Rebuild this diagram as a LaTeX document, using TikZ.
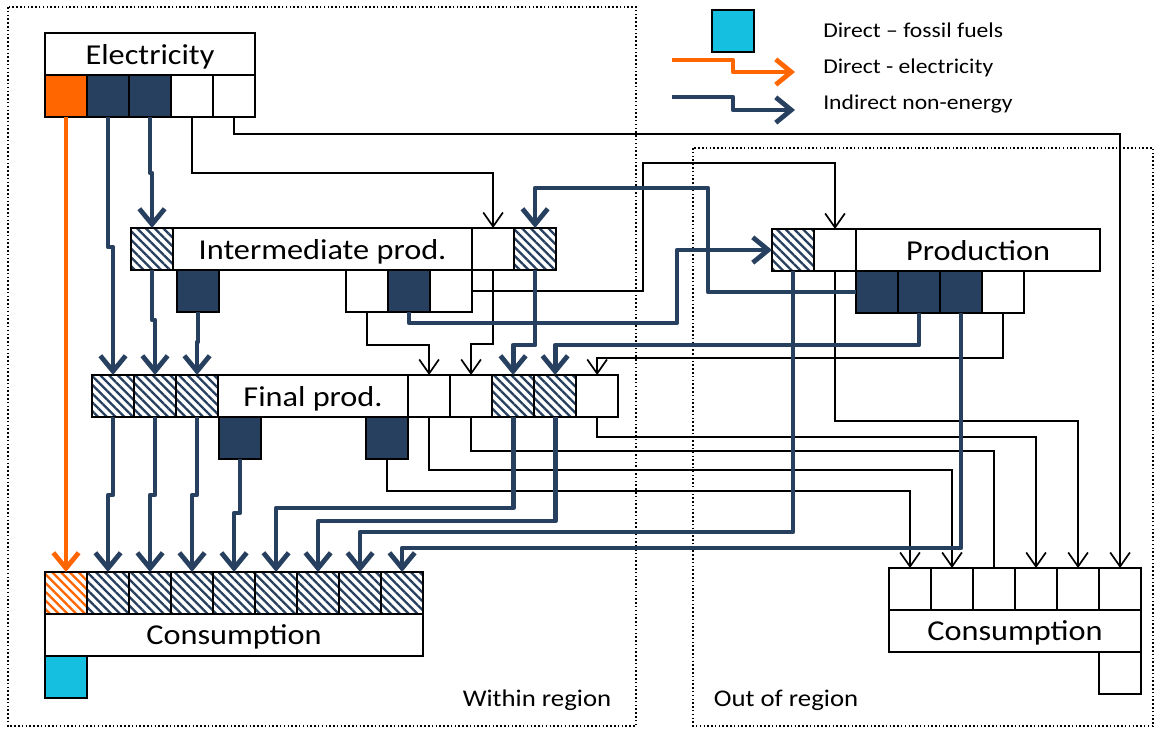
\documentclass[tikz,border=0pt]{standalone}
\usepackage{fontspec}
\setmainfont{Carlito}[FakeStretch=1.12]
\usepackage{tikz}
\usetikzlibrary{positioning,patterns.meta,arrows.meta}
\definecolor{navy}{HTML}{274060}
\definecolor{elorange}{HTML}{FF6600}
\definecolor{fossil}{HTML}{14BFE0}
\tikzstyle{cell}       = [draw=black,line width=1.3pt,minimum width=1.05cm,minimum height=1.05cm,inner sep=0pt,outer sep=0pt]
\tikzstyle{blank}      = [cell,fill=white]
\tikzstyle{navycell}   = [cell,fill=navy]
\tikzstyle{hatch}      = [cell,preaction={fill=white},pattern={Lines[angle=-45,distance=4.4pt,line width=1.7pt]},pattern color=navy]
\tikzstyle{orhatch}    = [hatch,pattern color=elorange]
\tikzstyle{blocktext}  = [cell,fill=white,text depth=0pt,font=\fontsize{20.5}{24}\selectfont]
\tikzstyle{legtext}    = [anchor=west,inner sep=0pt,font=\fontsize{15}{18}\selectfont]
\tikzstyle{regiontext} = [inner sep=0pt,font=\fontsize{17}{20}\selectfont]
\tikzstyle{regionbox}  = [line width=1.1pt,dash pattern=on 1.1pt off 1.6pt]
\tikzstyle{thinflow}   = [line width=1.2pt,-{Straight Barb[length=10pt,width=14pt]}]
\tikzstyle{indflow}    = [navy,line width=3.4pt,line join=round,-{Straight Barb[length=11pt,width=18pt]}]
\tikzstyle{elflow}     = [indflow,elorange]

\begin{document}
\begin{tikzpicture}[x=0.025cm,y=-0.025cm]
           \fill[white](0,0)rectangle(1156,730);
           \useasboundingbox(0,0)rectangle(1156,730);
           % regions
           \draw[regionbox](8,7)rectangle(636,726);
           \draw[regionbox](693,148)rectangle(1153,726);
           \node[regiontext](win)at(537,700){Within region};
           \node[regiontext](outr)at(786,700){Out of region};

           % legend
           \node[cell,fill=fossil](lfossil)at(733,31){};
           \node[legtext](lt1)at(823,30){Direct – fossil fuels};
           \node[legtext](lt2)at(823,68){Direct - electricity};
           \node[legtext](lt3)at(823,104){Indirect non-energy};
           \coordinate(le1)at(672,60);
           \coordinate(le2)at(795,72);
           \coordinate(ln1)at(672,97);
           \coordinate(ln2)at(795,110);
           \draw[elflow](le1)--++(61,0)|-(le2);
           \draw[indflow](ln1)--++(61,0)|-(ln2);

           % electricity
           \node[blocktext,minimum width=5.25cm](elec)at(150,54){Electricity};
           \node[cell,fill=elorange](e1)at(66,96){};
           \node[navycell,right=0pt of e1](e2){};
           \node[navycell,right=0pt of e2](e3){};
           \node[blank,right=0pt of e3](e4){};
           \node[blank,right=0pt of e4](e5){};

           % intermediate production
           \node[hatch](i1)at(152,249){};
           \node[blocktext,minimum width=7.475cm,right=0pt of i1](inter){Intermediate prod.};
           \node[blank,right=0pt of inter](i2){};
           \node[hatch,right=0pt of i2](i3){};
           \node[navycell](in1)at(198,291){};
           \node[blank](iw1)at(367,291){};
           \node[navycell,right=0pt of iw1](in2){};
           \node[blank,right=0pt of in2](iw2){};

           % final production
           \node[hatch](f1)at(113,396){};
           \node[hatch,right=0pt of f1](f2){};
           \node[hatch,right=0pt of f2](f3){};
           \node[blocktext,minimum width=4.75cm,right=0pt of f3](final){Final prod.};
           \node[blank,right=0pt of final](fw1){};
           \node[blank,right=0pt of fw1](fw2){};
           \node[hatch,right=0pt of fw2](fh4){};
           \node[hatch,right=0pt of fh4](fh5){};
           \node[blank,right=0pt of fh5](fw3){};
           \node[navycell](fn1)at(240,438){};
           \node[navycell](fn2)at(387,438){};

           % production out of region
           \node[hatch](ph)at(793,250){};
           \node[blank,right=0pt of ph](pw){};
           \node[blocktext,minimum width=6.1cm,right=0pt of pw](prod){Production};
           \node[navycell](pn1)at(877,292){};
           \node[navycell,right=0pt of pn1](pn2){};
           \node[navycell,right=0pt of pn2](pn3){};
           \node[blank,right=0pt of pn3](pw2){};

           % consumption within region
           \node[orhatch](c1)at(66,593){};
           \node[hatch,right=0pt of c1](c2){};
           \node[hatch,right=0pt of c2](c3){};
           \node[hatch,right=0pt of c3](c4){};
           \node[hatch,right=0pt of c4](c5){};
           \node[hatch,right=0pt of c5](c6){};
           \node[hatch,right=0pt of c6](c7){};
           \node[hatch,right=0pt of c7](c8){};
           \node[hatch,right=0pt of c8](c9){};
           \node[blocktext,minimum width=9.45cm,below right=0pt of c1.south west](cons){Consumption};
           \node[cell,fill=fossil,below right=0pt of cons.south west](cf){};

           % consumption out of region
           \node[blank](o1)at(910,589){};
           \node[blank,right=0pt of o1](o2){};
           \node[blank,right=0pt of o2](o3){};
           \node[blank,right=0pt of o3](o4){};
           \node[blank,right=0pt of o4](o5){};
           \node[blank,right=0pt of o5](o6){};
           \node[blocktext,minimum width=6.3cm,below right=0pt of o1.south west](ocons){Consumption};
           \node[blank,below left=0pt of ocons.south east](ob){};

           % plain flows
           \draw[thinflow](e4.south)--++(0,56)-|(i2.north);
           \draw[thinflow](e5.south)--++(0,17)-|(o6.north);
           \draw[thinflow](i2.south)--++(0,74)-|(fw2.north);
           \draw[thinflow](iw1.south)--++(0,33)-|(fw1.north);
           \draw[thinflow](iw2.east)-|++(171,-128)-|(pw.north);
           \draw[thinflow](pw.south)--++(0,150)-|(o5.north);
           \draw[thinflow](pw2.south)--++(0,45)-|(fw3.north);
           \draw[thinflow](fn2.south)--++(0,32)-|(o1.north);
           \draw[thinflow](fw1.south)--++(0,53)-|(o2.north);
           \draw[line width=1.2pt](fw2.south)--++(0,34)-|(o3.north);
           \draw[thinflow](fw3.south)--++(0,20)-|(o4.north);

           % electricity and indirect flows
           \draw[elflow](e1.south)--(c1.north);
           \draw[indflow](e2.south)--++(0,130)-|(f1.north);
           \draw[indflow](e3.south)--++(0,56)-|(i1.north);
           \draw[indflow](i1.south)--++(0,50)-|(f2.north);
           \draw[indflow](in1.south)--++(0,30)-|(f3.north);
           \draw[indflow](f1.south)--++(0,78)-|(c2.north);
           \draw[indflow](f2.south)--++(0,78)-|(c3.north);
           \draw[indflow](f3.south)--++(0,78)-|(c4.north);
           \draw[indflow](fn1.south)--++(0,54)-|(c5.north);
           \draw[indflow](i3.south)--++(0,75)-|(fh4.north);
           \draw[indflow](fh4.south)--++(0,91)-|(c6.north);
           \draw[indflow](fh5.south)--++(0,104)-|(c7.north);
           \draw[indflow](ph.south)--++(0,261)-|(c8.north);
           \draw[indflow](pn3.south)--++(0,235)-|(c9.north);
           \draw[indflow](in2.south)|-++(268,11)|-(ph.west);
           \draw[indflow](pn1.west)-|++(-148,-104)-|(i3.north);
           \draw[indflow](pn2.south)--++(0,32)-|(fh5.north);
\end{tikzpicture}
\end{document}
